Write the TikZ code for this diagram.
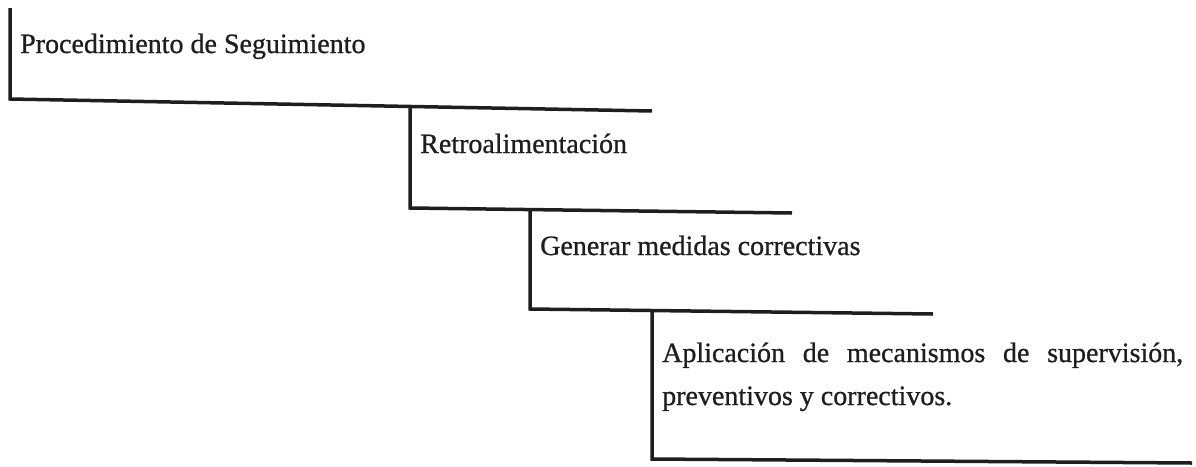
\documentclass[tikz,border=0pt]{standalone}
\usepackage{fontspec}
\setmainfont{Liberation Serif}
\newfontfamily\scanfont{Liberation Serif}[FakeBold=0.8]
\definecolor{ink}{HTML}{1E1E1E}
\begin{document}
\begin{tikzpicture}[x=1pt,y=-1pt,
  stepline/.style={line width=3.5pt, line cap=butt, line join=miter, draw=ink},
  lbl/.style={anchor=base west, inner sep=0pt, text=ink, font=\scanfont\fontsize{28}{43}\selectfont}]
\useasboundingbox (0,0) rectangle (1196,466);
% step outlines
\coordinate (a0) at (10,8);   \coordinate (a1) at (10,99);   \coordinate (a2) at (652,111);
\coordinate (b0) at (410,106); \coordinate (b1) at (410,208); \coordinate (b2) at (792,213);
\coordinate (c0) at (530,209); \coordinate (c1) at (530,309); \coordinate (c2) at (933,314);
\coordinate (d0) at (652,310); \coordinate (d1) at (652,459); \coordinate (d2) at (1192,463);
\draw[stepline] (a0) -- (a1) -- (a2);
\draw[stepline] (b0) -- (b1) -- (b2);
\draw[stepline] (c0) -- (c1) -- (c2);
\draw[stepline] (d0) -- (d1) -- (d2);
% labels
\node[lbl] (t1) at (20,53) {Procedimiento de Seguimiento};
\node[lbl] (t2) at (420,153) {Retroalimentación};
\node[lbl] (t3) at (540,255) {Generar medidas correctivas};
\node[lbl] (t4a) at (662,362) {\hbox to 521pt{Aplicación\hfill de\hfill mecanismos\hfill de\hfill supervisión,}};
\node[lbl] (t4b) at (662,405) {preventivos y correctivos.};
\end{tikzpicture}
\end{document}
